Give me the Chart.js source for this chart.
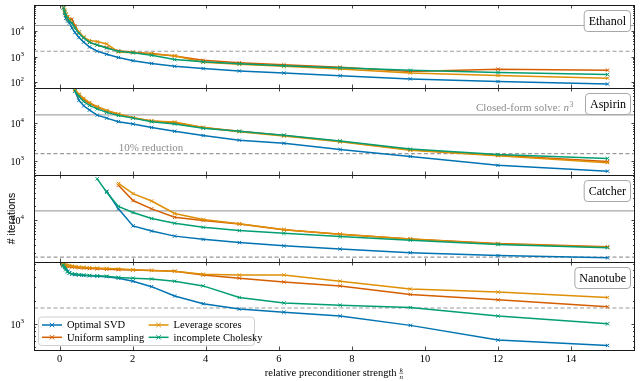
<!DOCTYPE html>
<html>
<head>
<meta charset="utf-8">
<script src="https://cdn.jsdelivr.net/npm/chart.js@4.4.0/dist/chart.umd.min.js"></script>
<style>
  body { margin: 0; background: #fff; }
  #wrap { position: relative; width: 640px; height: 381px; }
  #wrap canvas { position: absolute; left: 0; top: 0; }
</style>
</head>
<body>
<div id="wrap">
  <canvas id="c0" width="640" height="381"></canvas>
  <canvas id="c1" width="640" height="381"></canvas>
  <canvas id="c2" width="640" height="381"></canvas>
  <canvas id="c3" width="640" height="381"></canvas>
</div>
<script>
// relative preconditioner strength k/n
const strength = [0.09, 0.11, 0.14, 0.17, 0.22, 0.27, 0.34, 0.42, 0.53, 0.66, 0.82, 1.03,
  1.29, 1.61, 2.01, 2.52, 3.15, 3.93, 4.92, 6.14, 7.68, 9.6, 12, 15];
const xTicks = [0, 2, 4, 6, 8, 10, 12, 14];

const methods = ['Optimal SVD', 'Uniform sampling', 'Leverage scores', 'incomplete Cholesky'];
const colors = ['#0173b2', '#d55e00', '#de8f05', '#029e73'];

const closedFormSolve = 16000; // n^3
const tenPercent = 1600;       // 10% reduction

// # iterations
const ethanolSVD = [null, 77600, 46800, 30200, 24000, 20000, 12900, 8500, 5500, 3630, 2340, 1620,
  1230, 910, 690, 540, 420, 340, 275, 230, 180, 135, 107, 85];
const ethanolUniform = [null, 79400, 56200, 41700, 35500, 28200, 28200, 15800, 8910, 5620, 3550, 2820,
  2240, 1660, 1480, 1320, 1050, 710, 575, 480, 380, 263, 324, 295];
const ethanolLeverage = [null, 83200, 63100, 44700, 33100, 26300, 20000, 13200, 8910, 5620, 4170, 3800,
  3090, 1510, 1410, 1260, 1070, 600, 500, 417, 331, 229, 182, 145];
const ethanolCholesky = [null, 77600, 52500, 39800, 29500, 24000, 20000, 12600, 7940, 5250, 3550, 2820,
  2140, 1585, 1410, 1120, 760, 620, 525, 435, 365, 290, 240, 200];

const aspirinSVD = [null, null, null, null, null, null, null, 66100, 38000, 27500, 21400, 15800,
  13200, 10700, 9330, 7590, 6030, 4680, 3550, 2950, 2040, 1350, 794, 562];
const aspirinUniform = [null, null, null, null, null, null, null, 70800, 52500, 39800, 31600, 25700,
  20400, 16600, 13500, 11200, 10000, 7590, 6030, 4680, 3310, 2000, 1450, 1000];
const aspirinLeverage = [null, null, null, null, null, null, null, 74100, 55000, 42700, 33100, 26300,
  20900, 17000, 13500, 11200, 10500, 7590, 5890, 4570, 3240, 1950, 1410, 933];
const aspirinCholesky = [null, null, null, null, null, null, null, 66100, 47900, 35500, 28200, 22900,
  18600, 15500, 13200, 10700, 9330, 7240, 6030, 4790, 3390, 2090, 1510, 1200];

const catcherSVD = [null, null, null, null, null, null, null, null, null, null, null, null,
  42700, 17800, 7590, 5890, 4570, 3890, 3310, 2820, 2400, 2000, 1740, 1550];
const catcherUniform = [null, null, null, null, null, null, null, null, null, null, null, null,
  null, 57500, 26900, 17800, 11700, 10000, 8320, 6310, 5010, 3980, 3160, 2690];
const catcherLeverage = [null, null, null, null, null, null, null, null, null, null, null, null,
  null, 63100, 38000, 26300, 14100, 10500, 8510, 6310, 5010, 3980, 3090, 2630];
const catcherCholesky = [null, null, null, null, null, null, null, null, null, null, null, 79400,
  40700, 20000, 14800, 11000, 8710, 7080, 6030, 5250, 4470, 3720, 3020, 2570];

const nanotubeSVD = [5750, 5620, 5500, 5250, 4790, 4570, 4370, 4320, 4270, 4220, 4170, 4120,
  4070, 3890, 3550, 3020, 2290, 1820, 1550, 1410, 1260, 955, 617, 525];
const nanotubeUniform = [5890, 5750, 5690, 5620, 5560, 5500, 5430, 5370, 5310, 5250, 5190, 5130,
  5070, 5010, 4950, 4900, 4790, 4270, 3890, 3470, 3090, 2400, 2040, 1660];
const nanotubeLeverage = [6030, 5890, 5820, 5750, 5690, 5620, 5560, 5500, 5430, 5370, 5310, 5250,
  5190, 5130, 5010, 4900, 4790, 4370, 4270, 4270, 3550, 2820, 2570, 2190];
const nanotubeCholesky = [5750, 5620, 5370, 5010, 4680, 4520, 4420, 4370, 4320, 4270, 4220, 4170,
  4120, 3980, 3890, 3800, 3550, 3090, 2190, 1860, 1740, 1620, 1260, 1000];

const panels = [
  { name: 'Ethanol', values: [ethanolSVD, ethanolUniform, ethanolLeverage, ethanolCholesky], yMin: 60, yMax: 100000, top: 1, bottom: 88 },
  { name: 'Aspirin', values: [aspirinSVD, aspirinUniform, aspirinLeverage, aspirinCholesky], yMin: 447, yMax: 79400, top: 88, bottom: 175, notes: true },
  { name: 'Catcher', values: [catcherSVD, catcherUniform, catcherLeverage, catcherCholesky], yMin: 1260, yMax: 96000, top: 175, bottom: 262, yTitle: '# iterations' },
  { name: 'Nanotube', values: [nanotubeSVD, nanotubeUniform, nanotubeLeverage, nanotubeCholesky], yMin: 459, yMax: 6290, top: 262, bottom: 350, last: true },
];

const serif = '"Liberation Serif", "DejaVu Serif", serif';
const W = 640, H = 381;

function roundRect(ctx, x, y, w, h, r) {
  ctx.beginPath();
  ctx.moveTo(x + r, y);
  ctx.arcTo(x + w, y, x + w, y + h, r);
  ctx.arcTo(x + w, y + h, x, y + h, r);
  ctx.arcTo(x, y + h, x, y, r);
  ctx.arcTo(x, y, x + w, y, r);
  ctx.closePath();
}

function crossRot(ctx, cx, cy, r) {
  ctx.beginPath();
  ctx.moveTo(cx - r, cy - r); ctx.lineTo(cx + r, cy + r);
  ctx.moveTo(cx - r, cy + r); ctx.lineTo(cx + r, cy - r);
  ctx.stroke();
}

const deco = {
  id: 'deco',
  afterDraw(chart) {
    const p = chart.options.plugins.deco.panel;
    const { ctx, chartArea: a, scales: { x, y } } = chart;
    ctx.save();

    // frame
    ctx.strokeStyle = '#1a1a1a';
    ctx.lineWidth = 1;
    ctx.strokeRect(Math.round(a.left) + 0.5, Math.round(a.top) + 0.5,
      Math.round(a.right - a.left) - 1, Math.round(a.bottom - a.top));

    // x ticks, inward top and bottom
    ctx.lineWidth = 0.8;
    xTicks.forEach(v => {
      const px = Math.round(x.getPixelForValue(v)) + 0.5;
      ctx.beginPath();
      ctx.moveTo(px, a.top); ctx.lineTo(px, a.top + 3.5);
      ctx.moveTo(px, a.bottom); ctx.lineTo(px, a.bottom - 3.5);
      ctx.stroke();
    });

    // y ticks (log, major + minor) and labels
    const e0 = Math.floor(Math.log10(p.yMin)), e1 = Math.ceil(Math.log10(p.yMax));
    for (let e = e0; e <= e1; e++) {
      for (let m = 1; m < 10; m++) {
        const v = m * Math.pow(10, e);
        if (v <= p.yMin * 1.001 || v >= p.yMax * 0.999) continue;
        const py = Math.round(y.getPixelForValue(v)) + 0.5;
        const len = m === 1 ? 3.5 : 2;
        ctx.beginPath();
        ctx.moveTo(a.left, py); ctx.lineTo(a.left + len, py);
        ctx.moveTo(a.right, py); ctx.lineTo(a.right - len, py);
        ctx.stroke();
        if (m === 1) {
          ctx.fillStyle = '#000';
          ctx.textBaseline = 'middle';
          ctx.textAlign = 'left';
          ctx.font = `7px ${serif}`;
          const w2 = ctx.measureText(String(e)).width;
          ctx.font = `10px ${serif}`;
          const w1 = ctx.measureText('10').width;
          const xr = a.left - 10;
          ctx.fillText('10', xr - w2 - w1, py + 1);
          ctx.font = `7px ${serif}`;
          ctx.fillText(String(e), xr - w2, py - 3);
        }
      }
    }

    // panel name box
    ctx.font = `12px ${serif}`;
    const tw = ctx.measureText(p.name).width;
    const bw = tw + 9, bh = 21;
    const bx = a.right - 5 - bw, by = a.top + 5;
    roundRect(ctx, bx + 0.5, by + 0.5, bw, bh, 3.5);
    ctx.fillStyle = '#fff';
    ctx.fill();
    ctx.strokeStyle = '#a8a8a8';
    ctx.lineWidth = 1;
    ctx.stroke();
    ctx.fillStyle = '#000';
    ctx.textAlign = 'center';
    ctx.textBaseline = 'middle';
    ctx.fillText(p.name, bx + bw / 2 + 0.5, by + bh / 2 + 1);

    // reference line annotations
    if (p.notes) {
      ctx.fillStyle = '#8c8c8c';
      ctx.textBaseline = 'alphabetic';
      ctx.textAlign = 'left';
      const txt = 'Closed-form solve: ';
      ctx.font = `11px ${serif}`;
      const w1 = ctx.measureText(txt).width;
      ctx.font = `italic 11px ${serif}`;
      const w2 = ctx.measureText('n').width;
      ctx.font = `8px ${serif}`;
      const w3 = ctx.measureText('3').width;
      const xr = x.getPixelForValue(14.05);
      const yb = y.getPixelForValue(closedFormSolve) - 4;
      const cx = xr - w1 - w2 - w3;
      ctx.font = `11px ${serif}`;
      ctx.fillText(txt, cx, yb);
      ctx.font = `italic 11px ${serif}`;
      ctx.fillText('n', cx + w1, yb);
      ctx.font = `8px ${serif}`;
      ctx.fillText('3', cx + w1 + w2 + 0.5, yb - 4);

      ctx.font = `11px ${serif}`;
      ctx.fillText('10% reduction', x.getPixelForValue(1.62), y.getPixelForValue(tenPercent) - 3);
    }

    // y axis title
    if (p.yTitle) {
      ctx.save();
      ctx.translate(12, (a.top + a.bottom) / 2);
      ctx.rotate(-Math.PI / 2);
      ctx.fillStyle = '#000';
      ctx.font = '10.5px "Liberation Sans", Arial, sans-serif';
      ctx.textAlign = 'center';
      ctx.textBaseline = 'middle';
      ctx.fillText(p.yTitle, 0, 0);
      ctx.restore();
    }

    if (p.last) {
      // x axis title with small fraction
      const t = 'relative preconditioner strength ';
      ctx.font = `10.5px ${serif}`;
      const tw2 = ctx.measureText(t).width;
      const cx = (a.left + a.right) / 2;
      const x0 = cx - (tw2 + 5) / 2;
      ctx.fillStyle = '#000';
      ctx.textAlign = 'left';
      ctx.textBaseline = 'alphabetic';
      ctx.fillText(t, x0, 376);
      ctx.font = `italic 7px ${serif}`;
      ctx.textAlign = 'center';
      ctx.fillText('k', x0 + tw2 + 2, 371.5);
      ctx.fillText('n', x0 + tw2 + 2, 379);
      ctx.lineWidth = 0.5;
      ctx.beginPath();
      ctx.moveTo(x0 + tw2, 373.2); ctx.lineTo(x0 + tw2 + 4, 373.2);
      ctx.strokeStyle = '#000';
      ctx.stroke();

      // legend
      const lx = a.left + 4.5, ly = a.bottom - 33, lw = 216, lh = 28.5;
      roundRect(ctx, lx, ly, lw, lh, 3);
      ctx.fillStyle = 'rgba(255,255,255,0.85)';
      ctx.fill();
      ctx.strokeStyle = '#d0d0d0';
      ctx.lineWidth = 1;
      ctx.stroke();
      const items = chart.data.datasets.filter(d => d.label);
      ctx.font = `10.5px ${serif}`;
      ctx.textAlign = 'left';
      ctx.textBaseline = 'middle';
      items.forEach((d, i) => {
        const col = Math.floor(i / 2), row = i % 2;
        const hx = lx + 3.5 + col * 106.6, hy = ly + 8 + row * 12.3;
        ctx.strokeStyle = d.borderColor;
        ctx.lineWidth = 1.5;
        ctx.beginPath();
        ctx.moveTo(hx, hy); ctx.lineTo(hx + 20, hy);
        ctx.stroke();
        ctx.lineWidth = 1;
        crossRot(ctx, hx + 10, hy, 2.2);
        ctx.fillStyle = '#000';
        ctx.fillText(d.label, hx + 25, hy + 0.5);
      });
    }
    ctx.restore();
  }
};

function refLine(value, dash) {
  return {
    data: [{ x: -0.7, y: value }, { x: 15.75, y: value }],
    borderColor: dash.length ? '#9a9a9a' : '#a6a6a6',
    borderWidth: 1.2,
    borderDash: dash,
    pointRadius: 0,
    order: 10,
  };
}

function series(i, values) {
  return {
    label: methods[i],
    data: strength.map((s, k) => values[k] == null ? null : { x: s, y: values[k] }).filter(Boolean),
    borderColor: colors[i],
    backgroundColor: colors[i],
    borderWidth: 1.5,
    pointStyle: 'crossRot',
    pointRadius: 2.4,
    pointBorderWidth: 1,
    tension: 0,
    fill: false,
    order: 4 - i,
  };
}

panels.forEach((p, idx) => {
  new Chart(document.getElementById('c' + idx), {
    type: 'line',
    data: {
      datasets: [refLine(closedFormSolve, []), refLine(tenPercent, [4, 2.5])]
        .concat(p.values.map((v, i) => series(i, v))),
    },
    options: {
      responsive: false,
      animation: false,
      events: [],
      layout: { padding: { top: p.top, bottom: p.last ? 0 : H - p.bottom, left: 0, right: 2 } },
      plugins: {
        legend: { display: false },
        tooltip: { enabled: false },
        deco: { panel: p },
      },
      scales: {
        x: {
          type: 'linear',
          min: -0.7,
          max: 15.75,
          display: !!p.last,
          afterBuildTicks: s => { s.ticks = xTicks.map(v => ({ value: v })); },
          afterFit: s => { s.height = p.last ? H - p.bottom : 0; },
          grid: { display: false, drawTicks: false },
          border: { display: false },
          ticks: { color: '#000', font: { family: serif, size: 10.5 }, padding: 3, maxRotation: 0 },
        },
        y: {
          type: 'logarithmic',
          min: p.yMin,
          max: p.yMax,
          afterFit: s => { s.width = 34; },
          grid: { display: false },
          border: { display: false },
          ticks: { display: false },
        },
      },
    },
    plugins: [deco],
  });
});
</script>
</body>
</html>
